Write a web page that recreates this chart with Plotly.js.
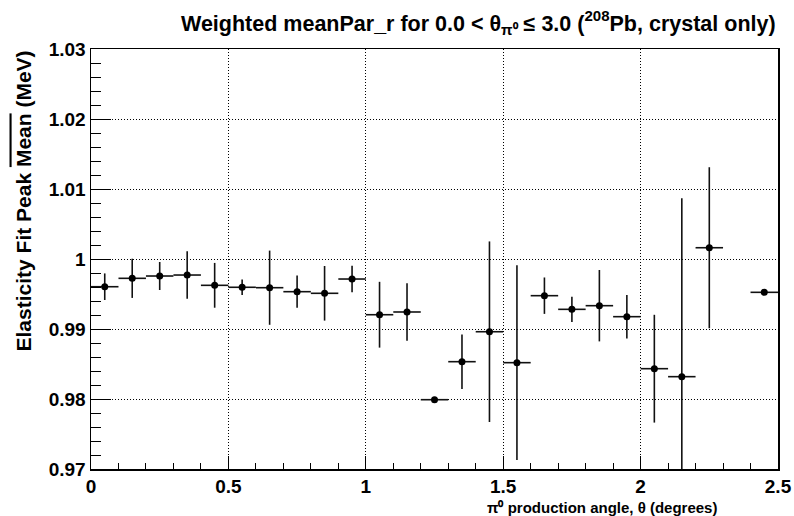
<!DOCTYPE html>
<html>
<head>
<meta charset="utf-8">
<script src="https://cdn.plot.ly/plotly-3.0.1.min.js"></script>
<style>body{margin:0;padding:0;background:#fff;}#chart{width:794px;height:516px;}</style>
</head>
<body>
<div id="chart"></div>
<script>
// Bin centres (degrees)
const theta = [0.05,0.15,0.25,0.35,0.45,0.55,0.65,0.75,0.85,0.95,
               1.05,1.15,1.25,1.35,1.45,1.55,1.65,1.75,1.85,1.95,
               2.05,2.15,2.25,2.45];
// Weighted peak means (MeV)
const meanVal = [0.99604,0.99724,0.99757,0.99771,0.99624,0.99596,0.99590,0.99533,0.99510,0.99714,
                 0.99204,0.99243,0.97990,0.98533,0.98961,0.98519,0.99476,0.99281,0.99333,0.99176,
                 0.98433,0.98319,1.00161,0.99524];
// Uncertainties on the means
const meanErr = [0.0019,0.0028,0.0020,0.0034,0.0032,0.0011,0.0053,0.0023,0.0039,0.0019,
                 0.0047,0.0041,0.0000,0.0039,0.0129,0.0139,0.0026,0.0018,0.0051,0.0031,
                 0.0077,0.0255,0.0115,0.0000];
// Half bin width
const halfBin = 0.05;

const xTickVals = [0,0.5,1,1.5,2,2.5];
const xTickText = ["0","0.5","1","1.5","2","2.5"];
const yTickVals = [0.97,0.98,0.99,1.00,1.01,1.02,1.03];
const yTickText = ["0.97","0.98","0.99","1","1.01","1.02","1.03"];

const FONT = "'Liberation Sans', Arial, Helvetica, sans-serif";

const trace = {
  type: 'scatter',
  mode: 'markers',
  x: theta,
  y: meanVal,
  marker: {color: '#000', size: 7, symbol: 'circle'},
  error_y: {type: 'data', array: meanErr, visible: true, width: 0, thickness: 1.6, color: '#111'},
  error_x: {type: 'constant', value: halfBin, visible: true, width: 0, thickness: 1.6, color: '#111'},
  hoverinfo: 'x+y'
};

const axisCommon = {
  showline: true, linecolor: '#000', linewidth: 1.5, mirror: true,
  ticks: 'inside', tickwidth: 1, tickcolor: '#000',
  showgrid: true, gridcolor: '#000', gridwidth: 1, griddash: '1px,2px',
  zeroline: false,
  tickfont: {family: FONT, size: 19, color: '#000', weight: 'bold'}
};

const layout = {
  width: 794, height: 516,
  margin: {l: 91, r: 16, t: 49, b: 47},
  paper_bgcolor: '#fff', plot_bgcolor: '#fff',
  showlegend: false,
  font: {family: FONT, color: '#000'},
  title: {
    text: '<b>Weighted meanPar_r for 0.0 &lt; θ<sub>π⁰</sub> ≤ 3.0 (<sup>208</sup>Pb, crystal only)</b>',
    font: {family: FONT, size: 21.5, color: '#000'},
    x: 181/794, xref: 'container', xanchor: 'left',
    y: 1 - 23/516, yref: 'container', yanchor: 'middle'
  },
  xaxis: Object.assign({}, axisCommon, {
    range: [0, 2.5], ticklen: 13,
    tickmode: 'array', tickvals: xTickVals, ticktext: xTickText,
    minor: {dtick: 0.1, tick0: 0, ticks: 'inside', ticklen: 6, tickcolor: '#000', showgrid: false}
  }),
  yaxis: Object.assign({}, axisCommon, {
    range: [0.97, 1.03], ticklen: 20,
    tickmode: 'array', tickvals: yTickVals, ticktext: yTickText,
    minor: {dtick: 0.002, tick0: 0.97, ticks: 'inside', ticklen: 10, tickcolor: '#000', showgrid: false}
  }),
  annotations: [
    {
      text: '<b>Elasticity Fit Peak <span style="text-decoration:overline">Mean</span> (MeV)</b>',
      xref: 'paper', yref: 'paper', x: 0, y: 1, xanchor: 'center', yanchor: 'top',
      xshift: -68, textangle: -90, showarrow: false,
      font: {family: FONT, size: 21, color: '#000'}
    },
    {
      text: '<b>π⁰ production angle, θ (degrees)</b>',
      xref: 'paper', yref: 'paper', x: 1, y: 0, xanchor: 'right', yanchor: 'middle',
      xshift: -59, yshift: -38, showarrow: false,
      font: {family: FONT, size: 15, color: '#000'}
    }
  ]
};

Plotly.newPlot('chart', [trace], layout, {displayModeBar: false, staticPlot: true});
</script>
</body>
</html>
